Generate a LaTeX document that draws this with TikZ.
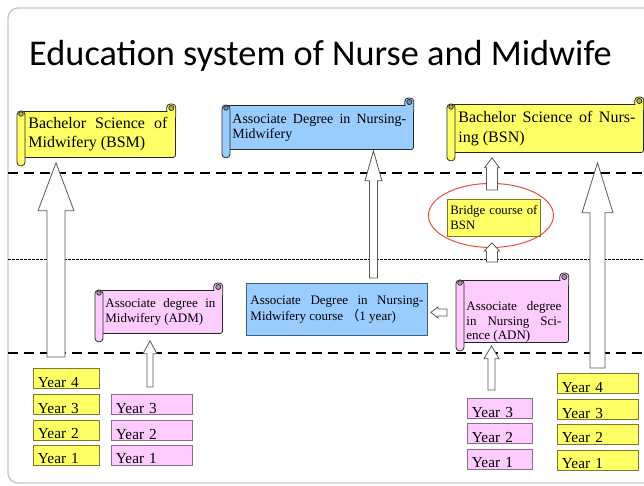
\documentclass[tikz,border=0pt]{standalone}
\usepackage{fontspec}
\setmainfont{Liberation Serif}
\newfontfamily\titlefont{Carlito}
\newfontfamily\cjk{Noto Sans CJK SC}
\usetikzlibrary{positioning,calc}

\definecolor{lemon}{HTML}{FFFF66}
\definecolor{blush}{HTML}{FFCCFF}
\definecolor{sky}{HTML}{99CCFF}
\definecolor{lemonedge}{HTML}{7A7A2A}
\definecolor{blushedge}{HTML}{8E6A8E}
\definecolor{skyedge}{HTML}{3F5F7F}
\definecolor{ringred}{HTML}{E8503A}

\tikzstyle{scroll}=[draw=black!85,line width=0.8pt,rounded corners=2pt,align=justify,anchor=north west]
\tikzstyle{yearbox}=[draw,line width=0.9pt,inner xsep=4.5pt,inner ysep=0pt,text height=18.7pt,text depth=1.3pt,align=left,anchor=north west,font=\fontsize{15.3}{18}\selectfont]
\tikzstyle{hollow}=[draw=gray!70!black,fill=white,line width=0.8pt]
\tikzstyle{bigdash}=[line width=1.8pt,dash pattern=on 10pt off 6pt]
\tikzstyle{thindash}=[line width=0.6pt,dash pattern=on 2.5pt off 1.5pt]

\tikzset{
  uparrow/.style n args={3}{to path={let \p1=(\tikztostart),\p2=(\tikztotarget) in
    (\x1-#1,\y1) -- (\x1-#1,\y2-#3) -- (\x1-#2,\y2-#3) -- (\x1,\y2) -- (\x1+#2,\y2-#3) -- (\x1+#1,\y2-#3) -- (\x1+#1,\y1) -- cycle}},
  leftarrow/.style n args={3}{to path={let \p1=(\tikztostart),\p2=(\tikztotarget) in
    (\x1,\y1-#1) -- (\x2+#3,\y1-#1) -- (\x2+#3,\y1-#2) -- (\x2,\y1) -- (\x2+#3,\y1+#2) -- (\x2+#3,\y1+#1) -- (\x1,\y1+#1) -- cycle}}
}

\newcommand{\scrollroll}[2]{%
  \filldraw[draw=black!85,line width=0.8pt,fill=#2,rounded corners=3.5pt]
    ($(#1.north east)+(-9,0)$) -- ($(#1.north east)+(-9,-7)$) -- ($(#1.north east)+(0,-7)$) -- ($(#1.north east)+(0,6)$);
  \filldraw[draw=black!85,line width=0.7pt,fill=#2!70!black] ($(#1.north east)+(-4.5,-3)$) circle (2.6pt);
  \filldraw[draw=black!85,line width=0.8pt,fill=#2,rounded corners=3.5pt]
    ($(#1.north west)+(-3,0)$) rectangle ($(#1.south west)+(5,8)$);
  \filldraw[draw=black!85,line width=0.7pt,fill=#2!70!black] ($(#1.north west)+(1,3)$) circle (2.3pt);
}

\begin{document}
\begin{tikzpicture}[x=1pt,y=-1pt]
  \tikzstyle{ring}=[draw=ringred,line width=1pt]

  \useasboundingbox (0,0) rectangle (644,485);
  \draw[gray!45,line width=1.3pt,rounded corners=10pt] (8,8) rectangle (660,483);

  \node[anchor=base west,inner sep=0pt,font=\titlefont\fontsize{36.3}{40}\selectfont] (title) at (29,65) {Education system of Nurse and Midwife};

  \draw[bigdash] (8,173) -- (644,173);
  \draw[thindash] (8,259) -- (644,259);
  \draw[bigdash] (8,353) -- (644,353);

  % scrolls
  \node[scroll,fill=lemon,inner xsep=8pt,text width=139pt,minimum height=46pt,font=\fontsize{16}{19}\selectfont] (bsm) at (20,111) {Bachelor Science of\linebreak Midwifery (BSM)};
  \scrollroll{bsm}{lemon}
  \node[scroll,fill=sky,inner xsep=7pt,text width=174pt,minimum height=44pt,font=\fontsize{14}{15}\selectfont] (admw) at (225,105) {Associate Degree in Nursing-\linebreak Midwifery};
  \scrollroll{admw}{sky}
  \node[scroll,fill=lemon,inner xsep=8pt,text width=177pt,minimum height=48pt,font=\fontsize{16}{20}\selectfont] (bsn) at (450,104) {Bachelor Science of Nurs-\linebreak ing (BSN)};
  \scrollroll{bsn}{lemon}
  \node[scroll,fill=blush,inner xsep=7pt,text width=110pt,minimum height=43pt,font=\fontsize{13}{15}\selectfont] (adm) at (98,290) {Associate degree in\linebreak Midwifery (ADM)};
  \scrollroll{adm}{blush}
  \node[scroll,fill=blush,inner xsep=7pt,text width=95pt,minimum height=62pt,text depth=10pt,font=\fontsize{13}{14.5}\selectfont] (adn) at (459,280) {Associate degree\linebreak in Nursing Sci-\linebreak ence (ADN)};
  \scrollroll{adn}{blush}

  \node[draw=skyedge,fill=sky,line width=0.9pt,anchor=north west,align=justify,inner xsep=4pt,text width=173pt,minimum height=52pt,text depth=18pt,font=\fontsize{13}{16}\selectfont] (course) at (246,283) {Associate Degree in Nursing-\linebreak Midwifery course {\cjk （}1 year)};
  \node[draw=lemonedge,fill=lemon,line width=0.9pt,anchor=north west,align=justify,inner xsep=3pt,text width=87pt,minimum height=37pt,font=\fontsize{12.8}{15}\selectfont] (bridge) at (447,199) {Bridge course of\linebreak BSN};
  \draw[ring] ($(bridge.center)+(-3,-2.5)$) ellipse [x radius=62.5pt, y radius=32pt];

  % years
  \node[yearbox,fill=lemon,draw=lemonedge,text width=57pt] (yl4) at (33,368) {Year 4};
  \node[yearbox,fill=lemon,draw=lemonedge,text width=57pt,below=5pt of yl4] (yl3) {Year 3};
  \node[yearbox,fill=lemon,draw=lemonedge,text width=57pt,below=5pt of yl3] (yl2) {Year 2};
  \node[yearbox,fill=lemon,draw=lemonedge,text width=57pt,below=4pt of yl2] (yl1) {Year 1};

  \node[yearbox,fill=blush,draw=blushedge,text width=72pt] (pl3) at (111,394) {Year 3};
  \node[yearbox,fill=blush,draw=blushedge,text width=72pt,below=5pt of pl3] (pl2) {Year 2};
  \node[yearbox,fill=blush,draw=blushedge,text width=72pt,below=4pt of pl2] (pl1) {Year 1};

  \node[yearbox,fill=blush,draw=blushedge,text width=56pt] (pr3) at (467,398) {Year 3};
  \node[yearbox,fill=blush,draw=blushedge,text width=56pt,below=4pt of pr3] (pr2) {Year 2};
  \node[yearbox,fill=blush,draw=blushedge,text width=56pt,below=5pt of pr2] (pr1) {Year 1};

  \node[yearbox,fill=lemon,draw=lemonedge,text width=72pt] (yr4) at (557,373) {Year 4};
  \node[yearbox,fill=lemon,draw=lemonedge,text width=72pt,below=5pt of yr4] (yr3) {Year 3};
  \node[yearbox,fill=lemon,draw=lemonedge,text width=72pt,below=4pt of yr3] (yr2) {Year 2};
  \node[yearbox,fill=lemon,draw=lemonedge,text width=72pt,below=5pt of yr2] (yr1) {Year 1};

  % arrows
  \coordinate (lstart) at ($(yl4.north west)+(23,-11)$);
  \coordinate (admstart) at ($(pl3.north west)+(39,-7)$);
  \coordinate (crsstart) at ($(course.north)+(36.5,-5)$);
  \coordinate (adnstart) at ($(pr3.north west)+(24.5,-8)$);
  \coordinate (brlow) at ($(adn.north)+(-22,-18)$);
  \coordinate (brup) at ($(bridge.north)+(-2,-9)$);
  \coordinate (rstart) at ($(yr4.north west)+(40.5,-5)$);
  \coordinate (adnleft) at ($(adn.west)+(-12,1)$);

  \draw[hollow,uparrow={9pt}{18pt}{48pt}] (lstart) to ($(bsm.south -| lstart)+(0,5)$);
  \draw[hollow,uparrow={3pt}{7pt}{13pt}] (admstart) to ($(adm.south -| admstart)+(0,7)$);
  \draw[hollow,uparrow={4pt}{8.5pt}{30pt}] (crsstart) to ($(admw.south -| crsstart)+(0,1)$);
  \draw[hollow,uparrow={3.5pt}{7.5pt}{13pt}] (adnstart) to ($(adn.south -| adnstart)+(0,3)$);
  \draw[hollow,uparrow={5.5pt}{7.5pt}{8pt}] (brlow) to ($(bridge.south -| brlow)+(0,6)$);
  \draw[hollow,uparrow={5.5pt}{7.5pt}{10pt}] (brup) to ($(bsn.south -| brup)+(0,5)$);
  \draw[hollow,uparrow={7.5pt}{15.5pt}{50pt}] (rstart) to ($(bsn.south -| rstart)+(0,10)$);
  \draw[hollow,leftarrow={3.5pt}{5.5pt}{7pt}] (adnleft) to ($(course.east |- adnleft)+(3,0)$);
\end{tikzpicture}
\end{document}
